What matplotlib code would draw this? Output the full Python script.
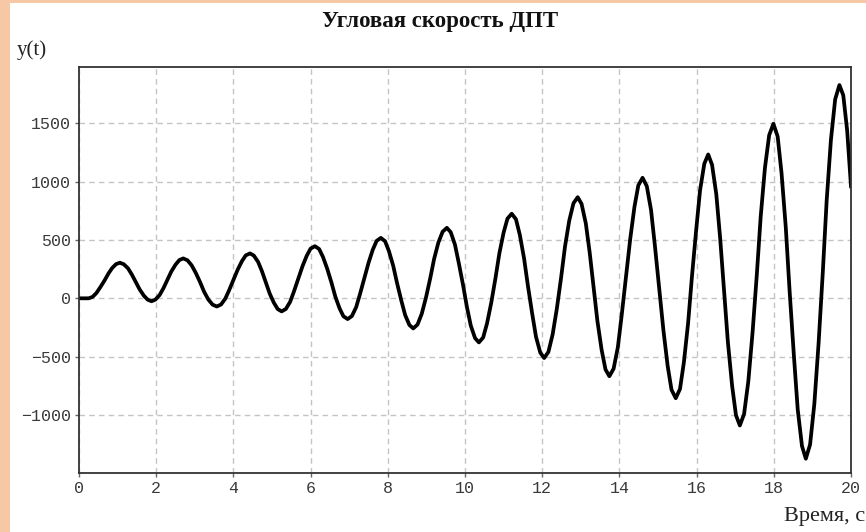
# -*- coding: utf-8 -*-
# Угловая скорость ДПТ: переходный процесс y(t)
import matplotlib
matplotlib.use("Agg")
import matplotlib.pyplot as plt
from matplotlib.patches import Rectangle

# ---------------- данные (снятые отсчёты) ----------------
t_s = [
    0.00, 0.10, 0.20,
    0.25, 0.35, 0.45, 0.55, 0.66, 0.76, 0.86, 0.96,
    1.06, 1.16, 1.27, 1.37, 1.47, 1.57, 1.68, 1.78,
    1.88, 1.98, 2.09, 2.19, 2.29, 2.39, 2.50, 2.60,
    2.70, 2.81, 2.92, 3.03, 3.14, 3.24, 3.35, 3.46,
    3.57, 3.68, 3.79, 3.89, 4.00, 4.11, 4.22, 4.32,
    4.43, 4.53, 4.64, 4.74, 4.84, 4.94, 5.05, 5.15,
    5.25, 5.36, 5.47, 5.57, 5.68, 5.79, 5.90, 6.00,
    6.11, 6.22, 6.32, 6.43, 6.54, 6.64, 6.75, 6.85,
    6.96, 7.07, 7.18, 7.28, 7.39, 7.50, 7.61, 7.71,
    7.82, 7.93, 8.03, 8.14, 8.24, 8.35, 8.45, 8.56,
    8.66, 8.77, 8.88, 8.99, 9.10, 9.20, 9.31, 9.42,
    9.53, 9.63, 9.74, 9.84, 9.95, 10.05, 10.15, 10.26,
    10.36, 10.47, 10.57, 10.68, 10.79, 10.89, 11.00, 11.10,
    11.21, 11.32, 11.42, 11.53, 11.63, 11.74, 11.84, 11.95,
    12.05, 12.16, 12.27, 12.38, 12.49, 12.59, 12.70, 12.81,
    12.92, 13.02, 13.13, 13.23, 13.33, 13.43, 13.54, 13.64,
    13.74, 13.85, 13.96, 14.06, 14.17, 14.28, 14.39, 14.49,
    14.60, 14.71, 14.82, 14.92, 15.03, 15.14, 15.25, 15.35,
    15.46, 15.57, 15.67, 15.78, 15.88, 15.99, 16.09, 16.20,
    16.30, 16.40, 16.51, 16.61, 16.71, 16.81, 16.92, 17.02,
    17.12, 17.23, 17.34, 17.45, 17.56, 17.66, 17.77, 17.88,
    17.99, 18.10, 18.20, 18.31, 18.41, 18.52, 18.62, 18.73,
    18.83, 18.94, 19.05, 19.16, 19.27, 19.37, 19.48, 19.59,
    19.70, 19.80, 19.90, 20.00,
]

omega = [
    0, 0, 0,
    0, 12, 45, 94, 152, 211, 260, 293,
    305, 292, 257, 203, 140, 77, 23, -12,
    -25, -11, 29, 88, 158, 229, 288, 328,
    342, 326, 282, 215, 136, 57, -10, -54,
    -70, -53, -3, 70, 158, 245, 318, 368,
    385, 366, 312, 232, 137, 41, -39, -93,
    -112, -91, -30, 60, 168, 275, 365, 426,
    447, 423, 355, 254, 135, 15, -86, -154,
    -178, -152, -76, 37, 170, 303, 416, 492,
    518, 489, 404, 279, 130, -19, -144, -229,
    -258, -225, -132, 8, 173, 338, 478, 571,
    604, 567, 460, 301, 113, -75, -234, -341,
    -378, -336, -216, -38, 174, 385, 563, 683,
    725, 678, 544, 343, 107, -130, -331, -465,
    -512, -460, -310, -87, 178, 442, 665, 815,
    867, 809, 642, 393, 100, -194, -443, -610,
    -668, -603, -419, -143, 183, 508, 784, 968,
    1033, 961, 756, 450, 89, -273, -579, -784,
    -856, -777, -550, -212, 189, 589, 927, 1154,
    1233, 1145, 893, 516, 72, -373, -750, -1002,
    -1090, -992, -711, -292, 203, 698, 1117, 1398,
    1496, 1387, 1075, 610, 61, -489, -954, -1266,
    -1375, -1253, -906, -387, 227, 840, 1359, 1706,
    1828, 1740, 1440, 960,
]

x_ticks = [0, 2, 4, 6, 8, 10, 12, 14, 16, 18, 20]
y_ticks = [-1000, -500, 0, 500, 1000, 1500]
# ---------------------------------------------------------

W, H = 866, 532
fig = plt.figure(figsize=(W / 100, H / 100), dpi=100)
fig.patch.set_facecolor("white")

# персиковая рамка слева и сверху
peach = "#f7c8a6"
fig.patches.append(Rectangle((0, 0), 10 / W, 1, transform=fig.transFigure,
                             facecolor=peach, edgecolor="none", zorder=-5))
fig.patches.append(Rectangle((0, 1 - 3 / H), 1, 3 / H, transform=fig.transFigure,
                             facecolor=peach, edgecolor="none", zorder=-5))

ax = fig.add_axes([79 / W, 1 - 472.5 / H, (851 - 79) / W, (472.5 - 66.5) / H])
ax.set_facecolor("white")
ax.set_zorder(5)

ax.plot(t_s, omega, color="black", linewidth=2.7, solid_joinstyle="round")

ax.set_xlim(0, 20)
ax.set_ylim(-1493, 1987)
ax.set_xticks(x_ticks)
ax.set_yticks(y_ticks)
ax.set_yticklabels([str(v).replace("-", "\u2212") for v in y_ticks])

ax.grid(True, color="#c4c4c4", linestyle=(0, (4, 3)), linewidth=1.0)
for s in ax.spines.values():
    s.set_color("#333333")
    s.set_linewidth(1.3)

ax.tick_params(axis="both", direction="out", length=3, width=1,
               color="#666666", labelcolor="#3a3a3a", labelsize=12)
for lab in ax.get_xticklabels() + ax.get_yticklabels():
    lab.set_fontfamily("Liberation Mono")
ax.tick_params(axis="x", pad=3)
ax.tick_params(axis="y", pad=3)

# подписи
fig.text(440 / W, 1 - 21 / H, "Угловая скорость ДПТ", ha="center", va="center",
         fontsize=16.5, fontweight="bold", family="Liberation Serif", color="#111111")
fig.text(17 / W, 1 - 50 / H, "y(t)", ha="left", va="center",
         fontsize=15, family="Liberation Serif", color="#222222")
fig.text(865 / W, 1 - 517 / H, "Время, с", ha="right", va="center",
         fontsize=16, family="Liberation Serif", color="#222222")

fig.savefig("out.png", dpi=100, facecolor=fig.get_facecolor())
